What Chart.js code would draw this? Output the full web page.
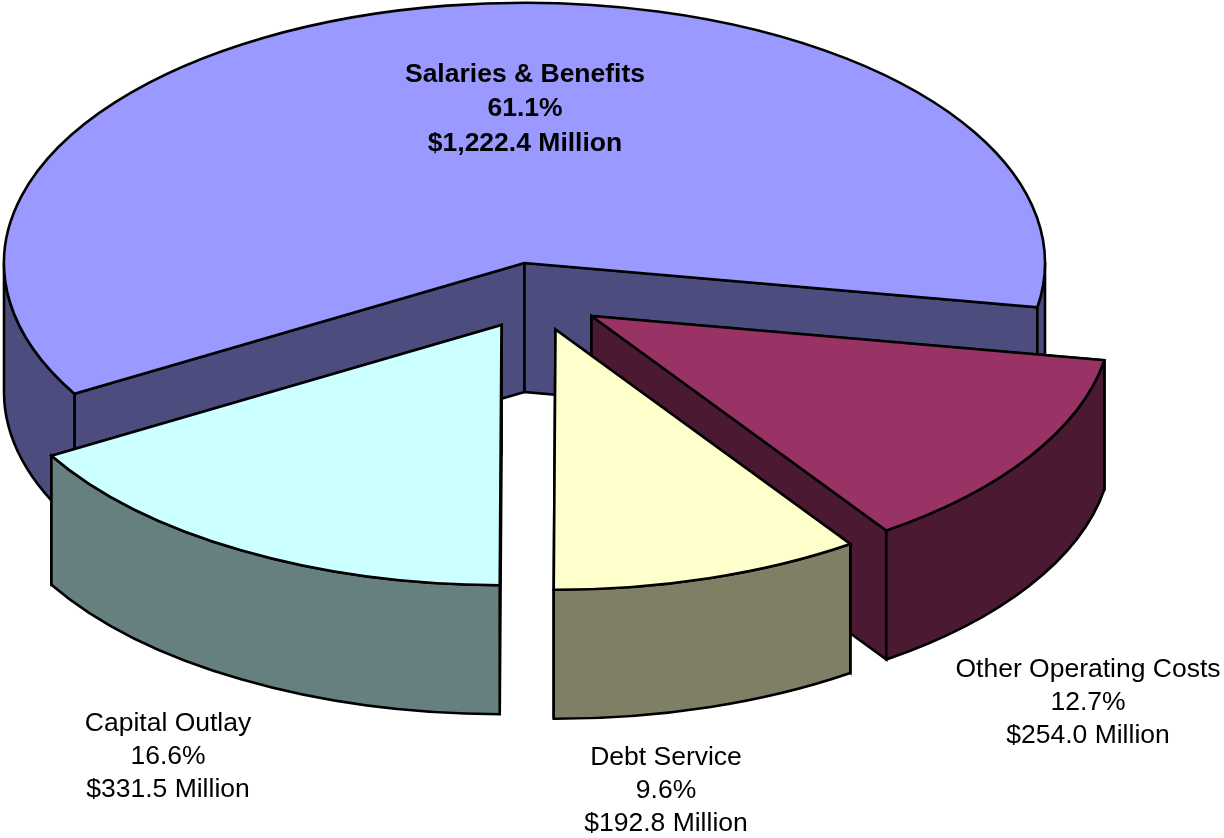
<!DOCTYPE html>
<html>
<head>
<meta charset="utf-8">
<title>Expenditures by category</title>
<style>
html,body{margin:0;padding:0;background:#fff}
canvas{display:block}
</style>
<script src="https://cdn.jsdelivr.net/npm/chart.js@4"></script>
</head>
<body>
<canvas id="chart" width="1224" height="838"></canvas>
<script>
// Budget categories, in clockwise order from the first slice.
const categories = ['Other Operating Costs', 'Debt Service', 'Capital Outlay', 'Salaries & Benefits'];
const amounts = [254.0, 192.8, 331.5, 1222.4];
const percentLabels = ['12.7%', '9.6%', '16.6%', '61.1%'];
const amountLabels = ['$254.0 Million', '$192.8 Million', '$331.5 Million', '$1,222.4 Million'];

const topColors = ['#993366', '#ffffcc', '#ccffff', '#9999ff'];
const sideColors = ['#4c1933', '#7f7f66', '#667f7f', '#4c4c7f'];

// Solid-pie look: horizontal stretch of the pie, extrusion height, per-slice pull-out and label anchors.
const pieStyle = {
  stretchX: 2,
  depth: 129,
  pullX: [67, 31, -23, 0],
  pullY: [53, 66.5, 62, 0],
  labelX: [1088, 666, 168, 525],
  labelY: [702.5, 791, 756.5, 109],
  labelWeight: ['normal', 'normal', 'normal', 'bold'],
  lineHeight: [33, 33, 33, 34.5]
};

const TAU = Math.PI * 2;

function sliceGeometry(arc, i) {
  const p = arc.getProps(['x', 'y', 'startAngle', 'endAngle', 'outerRadius'], true);
  return {
    cx: p.x + pieStyle.pullX[i],
    cy: p.y + pieStyle.pullY[i],
    rx: p.outerRadius * pieStyle.stretchX,
    ry: p.outerRadius,
    a0: p.startAngle,
    a1: p.endAngle
  };
}

// Side walls along the two straight edges of a slice.
function drawRadialWall(ctx, g, angle, depth) {
  const ex = g.cx + g.rx * Math.cos(angle);
  const ey = g.cy + g.ry * Math.sin(angle);
  ctx.beginPath();
  ctx.moveTo(g.cx, g.cy);
  ctx.lineTo(ex, ey);
  ctx.lineTo(ex, ey + depth);
  ctx.lineTo(g.cx, g.cy + depth);
  ctx.closePath();
  ctx.fill();
  ctx.stroke();
}

// Rim wall, limited to the part of the slice that faces the viewer (lower half of the ellipse).
function drawRimWall(ctx, g, depth) {
  for (let turn = -1; turn <= 1; turn++) {
    const from = Math.max(g.a0, turn * TAU);
    const to = Math.min(g.a1, turn * TAU + Math.PI);
    if (to <= from) continue;
    ctx.beginPath();
    ctx.ellipse(g.cx, g.cy, g.rx, g.ry, 0, from, to);
    ctx.ellipse(g.cx, g.cy + depth, g.rx, g.ry, 0, to, from, true);
    ctx.closePath();
    ctx.fill();
    ctx.stroke();
  }
}

const solidPie = {
  id: 'solidPie',
  beforeDatasetDraw(chart, args) {
    const ctx = chart.ctx;
    const arcs = chart.getDatasetMeta(args.index).data;
    const order = arcs.map((arc, i) => i).sort((a, b) => {
      const mid = k => (arcs[k].startAngle + arcs[k].endAngle) / 2;
      return Math.sin(mid(a)) - Math.sin(mid(b));
    });
    ctx.save();
    ctx.lineJoin = 'miter';
    ctx.miterLimit = 3;
    order.forEach(i => {
      const g = sliceGeometry(arcs[i], i);
      ctx.lineWidth = arcs[i].options.borderWidth;
      ctx.strokeStyle = arcs[i].options.borderColor;
      ctx.fillStyle = sideColors[i];
      drawRadialWall(ctx, g, g.a0, pieStyle.depth);
      drawRadialWall(ctx, g, g.a1, pieStyle.depth);
      drawRimWall(ctx, g, pieStyle.depth);
      ctx.fillStyle = arcs[i].options.backgroundColor;
      ctx.beginPath();
      ctx.moveTo(g.cx, g.cy);
      ctx.ellipse(g.cx, g.cy, g.rx, g.ry, 0, g.a0, g.a1);
      ctx.closePath();
      ctx.fill();
      ctx.stroke();
    });
    ctx.restore();
    return false;
  },
  afterDatasetsDraw(chart) {
    const ctx = chart.ctx;
    ctx.save();
    ctx.fillStyle = '#000';
    ctx.textAlign = 'center';
    ctx.textBaseline = 'middle';
    categories.forEach((name, i) => {
      ctx.font = pieStyle.labelWeight[i] + ' 26.5px "Liberation Sans", Arial, sans-serif';
      [name, percentLabels[i], amountLabels[i]].forEach((line, row) => {
        ctx.fillText(line, pieStyle.labelX[i], pieStyle.labelY[i] + (row - 1) * pieStyle.lineHeight[i]);
      });
    });
    ctx.restore();
  }
};

new Chart(document.getElementById('chart'), {
  type: 'pie',
  data: {
    labels: categories,
    datasets: [{
      data: amounts,
      backgroundColor: topColors,
      borderColor: '#000',
      borderWidth: 2.6
    }]
  },
  options: {
    responsive: false,
    animation: false,
    rotation: 99.8,
    layout: { padding: { left: 0, right: 175, top: 1.45, bottom: 313.45 } },
    plugins: { legend: { display: false }, tooltip: { enabled: false } }
  },
  plugins: [solidPie]
});
</script>
</body>
</html>
